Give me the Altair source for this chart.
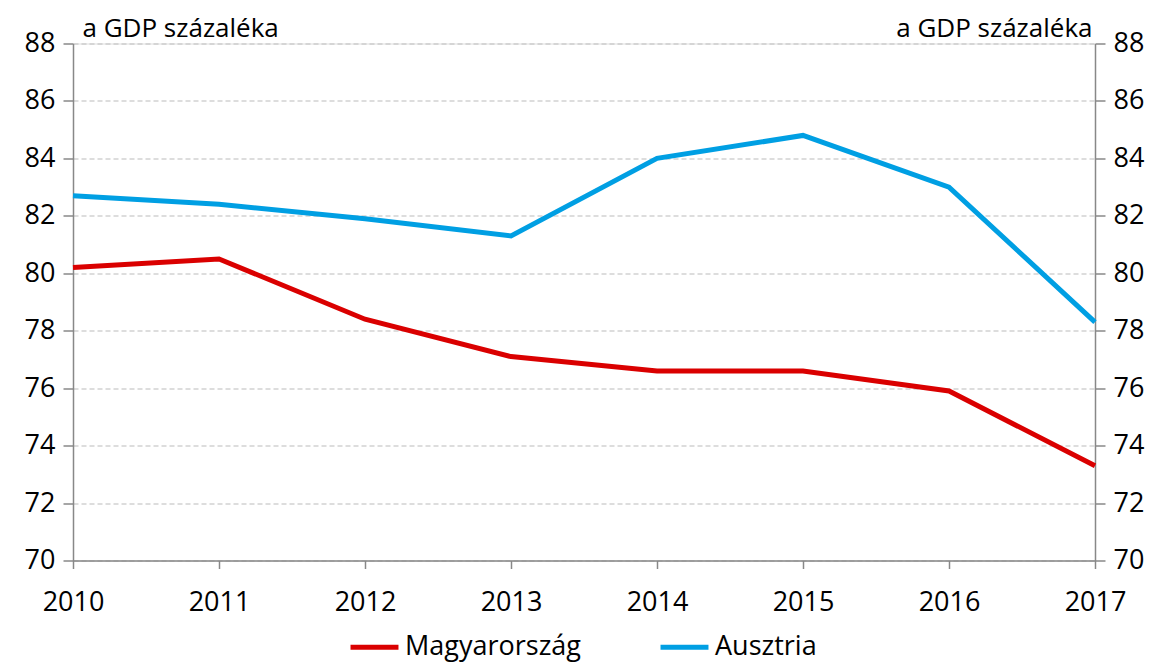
import altair as alt
import pandas as pd

years = [2010, 2011, 2012, 2013, 2014, 2015, 2016, 2017]
hungary = [80.2, 80.5, 78.4, 77.1, 76.6, 76.6, 75.9, 73.3]
austria = [82.7, 82.4, 81.9, 81.3, 84.0, 84.8, 83.0, 78.3]
series_names = ["Magyarország", "Ausztria"]
series_colors = ["#DA0000", "#009FE3"]
y_ticks = [70, 72, 74, 76, 78, 80, 82, 84, 86, 88]
unit_label = "a GDP százaléka"

rows = []
for name, vals in zip(series_names, [hungary, austria]):
    for yr, v in zip(years, vals):
        rows.append({"year": yr, "value": v, "series": name})
df = pd.DataFrame(rows)

FONT = "Open Sans"
FS = 27

x_enc = alt.X("year:Q", scale=alt.Scale(domain=[2010, 2017], nice=False),
              axis=alt.Axis(values=years, format="d", title=None, grid=False,
                            labelFlush=False, labelFontSize=FS, labelFont=FONT,
                            labelColor="black", labelPadding=21,
                            domainColor="#888", tickColor="#888", tickSize=8,
                            domainWidth=1.5, tickWidth=1.5))

color_enc = alt.Color("series:N", sort=series_names,
                      scale=alt.Scale(domain=series_names, range=series_colors),
                      legend=alt.Legend(title=None, orient="none", direction="horizontal",
                                        legendX=275, legendY=577,
                                        symbolType="stroke", symbolSize=2300,
                                        symbolStrokeWidth=5, labelFontSize=FS,
                                        labelFont=FONT, labelColor="black",
                                        labelLimit=400,
                                        columnPadding=69, labelOffset=4))

def yaxis(orient, titleX, align):
    return alt.Axis(orient=orient, values=y_ticks, title=unit_label, titleAngle=0,
                    titleX=titleX, titleY=-7, titleAlign=align, titleBaseline="alphabetic",
                    titleFont=FONT, titleFontSize=26, titleFontWeight="normal", titleColor="black",
                    labelFont=FONT, labelFontSize=FS, labelColor="black", labelPadding=8,
                    domainColor="#888", tickColor="#888", tickSize=10,
                    domainWidth=1.5, tickWidth=1.5,
                    grid=(orient == "left"), gridColor="#BBBBBB", gridDash=[5, 3], gridWidth=1.2)

yscale = alt.Scale(domain=[70, 88], nice=False, zero=False)

left = alt.Chart(df).mark_line(strokeWidth=5, strokeCap="butt", strokeJoin="miter").encode(
    x=x_enc,
    y=alt.Y("value:Q", scale=yscale, axis=yaxis("left", 9, "left")),
    color=color_enc,
)

right = alt.Chart(df).mark_line(strokeWidth=5, opacity=0).encode(
    x=x_enc,
    y=alt.Y("value:Q", scale=yscale, axis=yaxis("right", -3, "right")),
    detail="series:N",
)

chart = alt.layer(left, right).resolve_scale(y="independent").properties(
    width=1022, height=517,
    autosize=alt.AutoSizeParams(type="none"),
    padding={"left": 65, "top": 35.5, "right": 63, "bottom": 101.5},
).configure_view(stroke=None).configure(background="white")

chart.save("out.html", embed_options={"renderer": "svg", "actions": False})
